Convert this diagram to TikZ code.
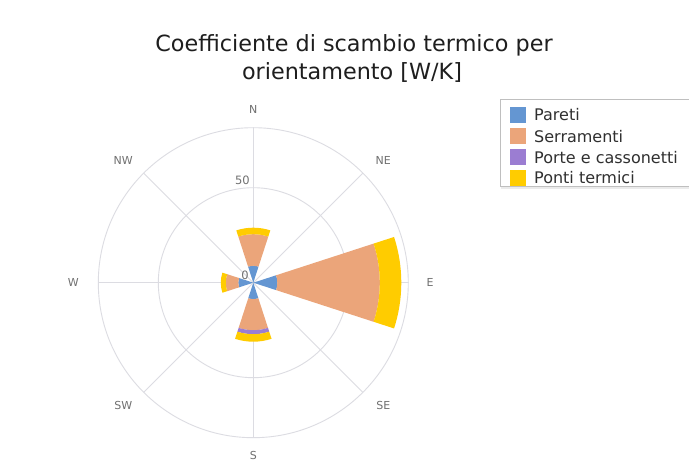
\documentclass[tikz,border=0pt]{standalone}
\usepackage{fontspec}
\setmainfont{DejaVu Sans}
\definecolor{pareti}{HTML}{6496D2}
\definecolor{serram}{HTML}{EBA57A}
\definecolor{porte}{HTML}{9B7DD2}
\definecolor{ponti}{HTML}{FFCC00}
\definecolor{gridc}{HTML}{DCDCE2}
\definecolor{labc}{HTML}{707070}
\definecolor{titc}{HTML}{1E1E1E}
\definecolor{legc}{HTML}{303030}
\newcommand\rosesector[4]{%
  \fill[#1] ({#2-18}:#3) arc[start angle={#2-18}, end angle={#2+18}, radius=#3]
    -- ({#2+18}:#4) arc[start angle={#2+18}, end angle={#2-18}, radius=#4] -- cycle;}
\tikzset{
  gridline/.style={draw=gridc, line width=0.9pt},
  dirlabel/.style={text=labc, font=\fontsize{11}{13}\selectfont, inner sep=0pt},
  axlabel/.style={text=labc, font=\fontsize{11.5}{13}\selectfont, inner sep=0pt, anchor=east},
  titlet/.style={text=titc, font=\fontsize{22.3}{28}\selectfont, inner sep=0pt, anchor=base},
  legsq/.style={minimum width=16pt, minimum height=16pt, inner sep=0pt},
  legtxt/.style={text=legc, font=\fontsize{16}{19}\selectfont, inner sep=0pt, anchor=west},
}
\begin{document}
\begin{tikzpicture}[x=1pt,y=-1pt]
\useasboundingbox (0,0) rectangle (689,462);
\fill[white] (0,0) rectangle (689,462);
\coordinate (C) at (253.3,282.7);
\begin{scope}[shift={(C)}, yscale=-1]
  \foreach \a in {0,45,...,315} { \draw[gridline] (0,0) -- (\a:155); }
  \draw[gridline] (0,0) circle[radius=95];
  \draw[gridline] (0,0) circle[radius=155];
  % E
  \rosesector{pareti}{0}{0.01}{24}
  \rosesector{serram}{0}{24}{126.5}
  \rosesector{ponti}{0}{126.5}{148}
  % N
  \rosesector{pareti}{90}{0.01}{17}
  \rosesector{serram}{90}{17}{48.5}
  \rosesector{ponti}{90}{48.5}{55}
  % W
  \rosesector{pareti}{180}{0.01}{15}
  \rosesector{serram}{180}{15}{27.5}
  \rosesector{ponti}{180}{27.5}{32.5}
  % S
  \rosesector{pareti}{270}{0.01}{16.5}
  \rosesector{serram}{270}{16.5}{47.5}
  \rosesector{porte}{270}{47.5}{51.5}
  \rosesector{ponti}{270}{51.5}{59}
\end{scope}
% axis labels
\node[axlabel] (v50) at (250,180.5) {50};
\node[axlabel] (v0) at (249,275) {0};
% direction labels
\node[dirlabel] (lN) at (253.3,109.3) {N};
\node[dirlabel] (lNE) at (383.3,160.7) {NE};
\node[dirlabel] (lE) at (430,282.7) {E};
\node[dirlabel] (lSE) at (383.3,405.5) {SE};
\node[dirlabel] (lS) at (253.3,455) {S};
\node[dirlabel] (lSW) at (123.3,405.5) {SW};
\node[dirlabel] (lW) at (73.3,282.7) {W};
\node[dirlabel] (lNW) at (123.3,160.7) {NW};
% title
\node[titlet] (t1) at (354,51.7) {Coefficiente di scambio termico per};
\node[titlet] (t2) at (352,80) {orientamento [W/K]};
% legend
\draw[black!8, line width=2pt] (689,101) -- (502,101) -- (502,188) -- (689,188);
\draw[fill=white, draw=black!25, line width=0.8pt] (690,99) -- (500,99) -- (500,186) -- (690,186);
\node[legsq, fill=pareti] (s1) at (518,115) {};
\node[legsq, fill=serram] (s2) at (518,136.5) {};
\node[legsq, fill=porte] (s3) at (518,157.5) {};
\node[legsq, fill=ponti] (s4) at (518,178) {};
\node[legtxt] (e1) at (534,115) {Pareti};
\node[legtxt] (e2) at (534,136.5) {Serramenti};
\node[legtxt] (e3) at (534,157.5) {Porte e cassonetti};
\node[legtxt] (e4) at (534,178) {Ponti termici};
\end{tikzpicture}
\end{document}
